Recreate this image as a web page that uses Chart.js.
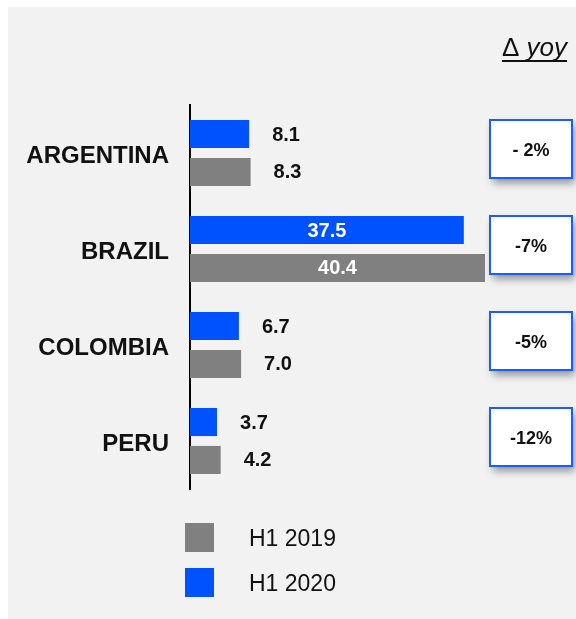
<!DOCTYPE html>
<html>
<head>
<meta charset="utf-8">
<script src="https://cdn.jsdelivr.net/npm/chart.js@4.4.0/dist/chart.umd.min.js"></script>
<style>
  body { margin: 0; background: #fff; }
  canvas { display: block; }
</style>
</head>
<body>
<canvas id="chart" width="576" height="619"></canvas>
<script>
var countries = ["ARGENTINA", "BRAZIL", "COLOMBIA", "PERU"];
var h1_2020 = [8.1, 37.5, 6.7, 3.7];
var h1_2019 = [8.3, 40.4, 7.0, 4.2];
var yoyLabels = ["- 2%", "-7%", "-5%", "-12%"];

var BLUE = "#0052ff";
var GRAY = "#808080";
var FONT = "Arial, 'Liberation Sans', sans-serif";

// grey panel behind everything
var panelBg = {
  id: "panelBg",
  beforeDraw: function (chart) {
    var ctx = chart.ctx;
    ctx.save();
    ctx.fillStyle = "#ffffff";
    ctx.fillRect(0, 0, chart.width, chart.height);
    ctx.fillStyle = "#f2f2f2";
    ctx.fillRect(8, 7, chart.width - 8, chart.height - 7);
    ctx.restore();
  }
};

// value labels next to / inside the bars
var valueLabels = {
  id: "valueLabels",
  afterDatasetsDraw: function (chart) {
    var ctx = chart.ctx;
    ctx.save();
    ctx.font = "bold 20px " + FONT;
    ctx.textBaseline = "middle";
    chart.data.datasets.forEach(function (ds, di) {
      chart.getDatasetMeta(di).data.forEach(function (bar, i) {
        var txt = ds.data[i].toFixed(1);
        var w = bar.x - bar.base;
        if (w > 150) {
          ctx.fillStyle = "#ffffff";
          ctx.textAlign = "center";
          ctx.fillText(txt, (bar.x + bar.base) / 2, bar.y + 1);
        } else {
          ctx.fillStyle = "#111111";
          ctx.textAlign = "left";
          ctx.fillText(txt, bar.x + 23, bar.y + 1);
        }
      });
    });
    ctx.restore();
  }
};

// yoy header and boxes on the right, legend at the bottom
var extras = {
  id: "extras",
  afterDraw: function (chart) {
    var ctx = chart.ctx;
    var yScale = chart.scales.y;
    ctx.save();

    // header: upright delta, italic "yoy", underlined
    ctx.fillStyle = "#111111";
    ctx.textBaseline = "alphabetic";
    ctx.textAlign = "left";
    ctx.font = "26px " + FONT;
    var dw = ctx.measureText("\u0394").width;
    ctx.font = "italic 26px " + FONT;
    var yw = ctx.measureText(" yoy").width;
    var left = 567 - dw - yw;
    ctx.font = "26px " + FONT;
    ctx.fillText("\u0394", left, 56);
    ctx.font = "italic 26px " + FONT;
    ctx.fillText(" yoy", left + dw, 56);
    ctx.fillRect(left, 60, dw + yw, 2);

    // boxes
    yoyLabels.forEach(function (lbl, i) {
      var cy = yScale.getPixelForValue(i) - 4;
      var x = 490, w = 82, h = 58, y = cy - h / 2;
      ctx.save();
      ctx.shadowColor = "rgba(0,0,0,0.4)";
      ctx.shadowBlur = 8;
      ctx.shadowOffsetX = 3;
      ctx.shadowOffsetY = 5;
      ctx.fillStyle = "#ffffff";
      ctx.fillRect(x, y, w, h);
      ctx.restore();
      ctx.strokeStyle = "#1a5cff";
      ctx.lineWidth = 2;
      ctx.strokeRect(x, y, w, h);
      ctx.fillStyle = "#111111";
      ctx.font = "bold 18px " + FONT;
      ctx.textAlign = "center";
      ctx.textBaseline = "middle";
      ctx.fillText(lbl, x + w / 2, cy + 2);
    });

    // legend, 2019 first
    var items = chart.data.datasets.slice().reverse();
    items.forEach(function (ds, k) {
      var top = 523 + k * 45;
      ctx.fillStyle = ds.backgroundColor;
      ctx.fillRect(185, top, 29, 29);
      ctx.fillStyle = "#111111";
      ctx.font = "23px " + FONT;
      ctx.textAlign = "left";
      ctx.textBaseline = "middle";
      ctx.fillText(ds.label, 249, top + 17);
    });
    ctx.restore();
  }
};

new Chart(document.getElementById("chart"), {
  type: "bar",
  data: {
    labels: countries,
    datasets: [
      {
        label: "H1 2020",
        data: h1_2020,
        backgroundColor: BLUE,
        barPercentage: 0.74,
        categoryPercentage: 0.79
      },
      {
        label: "H1 2019",
        data: h1_2019,
        backgroundColor: GRAY,
        barPercentage: 0.74,
        categoryPercentage: 0.79
      }
    ]
  },
  options: {
    indexAxis: "y",
    responsive: false,
    animation: false,
    layout: { padding: { left: 0, top: 105, right: 91, bottom: 130 } },
    plugins: {
      legend: { display: false },
      tooltip: { enabled: false }
    },
    scales: {
      x: {
        display: false,
        min: 0,
        max: Math.max.apply(null, h1_2019)
      },
      y: {
        grid: { display: false, drawTicks: false },
        border: { display: true, color: "#000000", width: 2 },
        ticks: {
          padding: 21,
          labelOffset: 3,
          color: "#111111",
          font: { family: FONT, size: 24, weight: "bold" }
        },
        afterFit: function (scale) {
          scale.width = 190;
        }
      }
    }
  },
  plugins: [panelBg, valueLabels, extras]
});
</script>
</body>
</html>
